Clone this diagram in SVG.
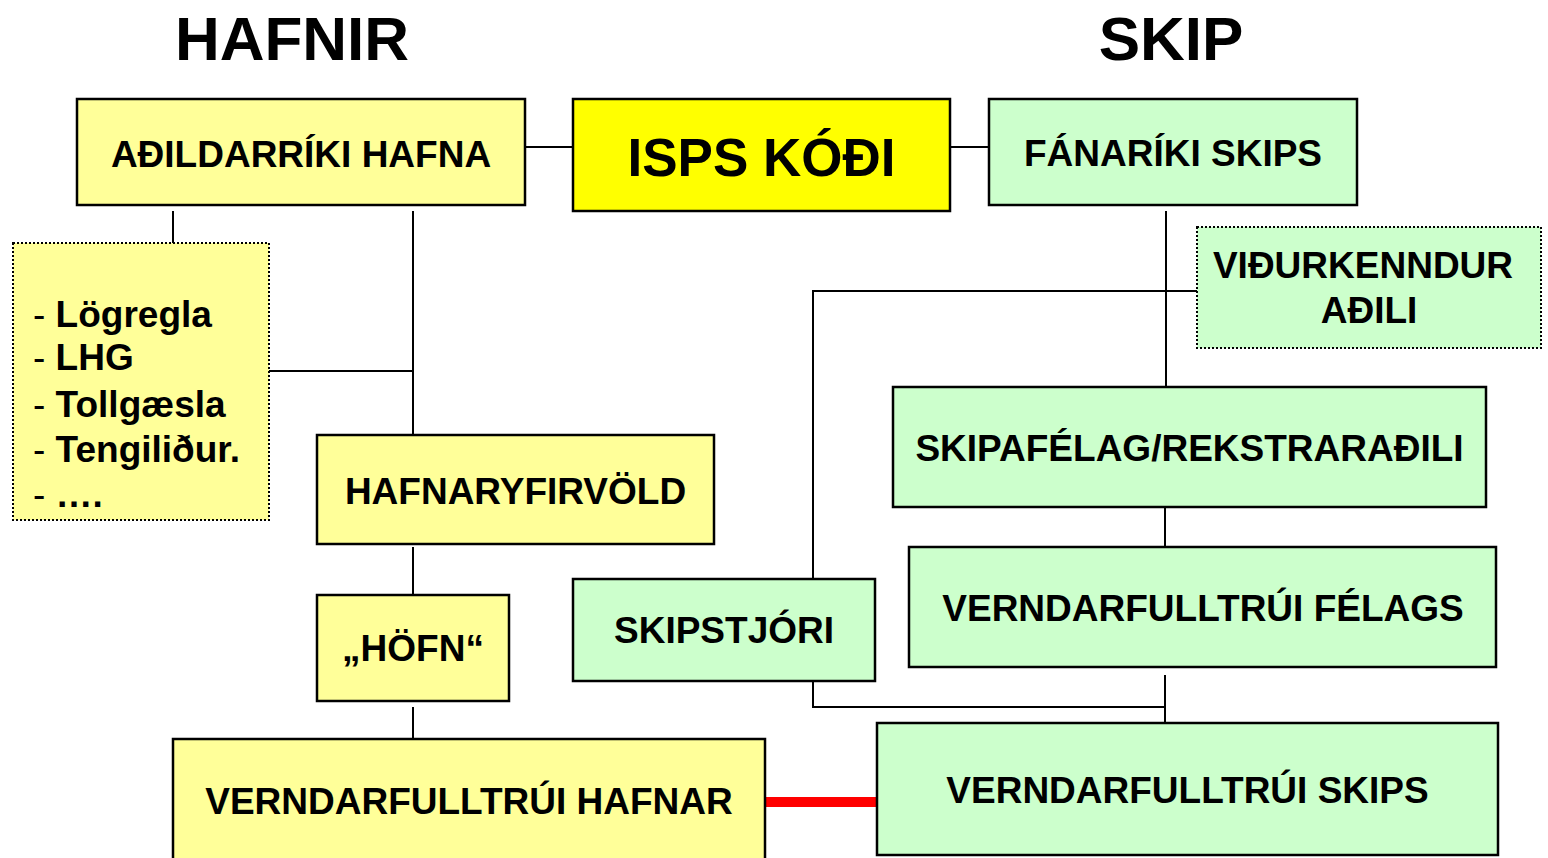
<svg xmlns="http://www.w3.org/2000/svg" width="1548" height="858" viewBox="0 0 1548 858">
<style>
text{font-family:"Liberation Sans",Arial,sans-serif;font-weight:bold;fill:#000}
.t{font-size:37px;text-anchor:middle}
.h{font-size:62px;text-anchor:middle}
.l{font-size:37px}
.n{font-weight:normal}
.box{stroke:#000;stroke-width:2.5}
.dot{stroke:#000;stroke-width:2;stroke-dasharray:2 2}
.y{fill:#FFFF99}
.g{fill:#CCFFCC}
.c{stroke:#000;stroke-width:2;fill:none}
</style>
<rect width="1548" height="858" fill="#fff"/>
<text class="h" x="292" y="60">HAFNIR</text>
<text class="h" x="1171" y="60">SKIP</text>
<g id="connectors">
<line class="c" x1="525" y1="147" x2="573" y2="147"/>
<line class="c" x1="942" y1="147" x2="989" y2="147"/>
<line class="c" x1="173" y1="211" x2="173" y2="243"/>
<polyline class="c" points="413,211 413,435"/>
<line class="c" x1="269" y1="371" x2="413" y2="371"/>
<line class="c" x1="413" y1="547" x2="413" y2="595"/>
<line class="c" x1="413" y1="707" x2="413" y2="739"/>
<line class="c" x1="1166" y1="211" x2="1166" y2="387"/>
<polyline class="c" points="1197,291 813,291 813,579"/>
<line class="c" x1="1165" y1="499" x2="1165" y2="547"/>
<polyline class="c" points="813,675 813,707 1165,707"/>
<line class="c" x1="1165" y1="675" x2="1165" y2="738"/>
<line x1="765" y1="802" x2="877" y2="802" stroke="#FF0000" stroke-width="10"/>
</g>
<g id="adildarriki">
<rect class="box y" x="77" y="99" width="448" height="106"/>
<text class="t" x="301" y="167">AÐILDARRÍKI HAFNA</text>
</g>
<g id="isps">
<rect class="box" fill="#FFFF00" x="573" y="99" width="377" height="112"/>
<text x="761.5" y="176" style="font-size:53px;text-anchor:middle">ISPS KÓÐI</text>
</g>
<g id="fanariki">
<rect class="box g" x="989" y="99" width="368" height="106"/>
<text class="t" x="1173" y="166">FÁNARÍKI SKIPS</text>
</g>
<g id="listi">
<rect class="dot y" x="13" y="243" width="256" height="277"/>
<text class="l" x="33" y="327"><tspan class="n">- </tspan>Lögregla</text>
<text class="l" x="33" y="370"><tspan class="n">- </tspan>LHG</text>
<text class="l" x="33" y="417"><tspan class="n">- </tspan>Tollgæsla</text>
<text class="l" x="33" y="462"><tspan class="n">- </tspan>Tengiliður.</text>
<text class="l" x="33" y="507"><tspan class="n">- </tspan>….</text>
</g>
<g id="vidurkenndur">
<rect class="dot g" x="1197" y="227" width="344" height="121"/>
<text class="t" x="1363" y="278">VIÐURKENNDUR</text>
<text class="t" x="1369" y="323">AÐILI</text>
</g>
<g id="hafnaryfirvold">
<rect class="box y" x="317" y="435" width="397" height="109"/>
<text class="t" x="515.5" y="504">HAFNARYFIRVÖLD</text>
</g>
<g id="skipafelag">
<rect class="box g" x="893" y="387" width="593" height="120"/>
<text class="t" x="1189.5" y="461">SKIPAFÉLAG/REKSTRARAÐILI</text>
</g>
<g id="hofn">
<rect class="box y" x="317" y="595" width="192" height="106"/>
<text class="t" x="413" y="661">„HÖFN“</text>
</g>
<g id="skipstjori">
<rect class="box g" x="573" y="579" width="302" height="102"/>
<text class="t" x="724" y="643">SKIPSTJÓRI</text>
</g>
<g id="vf-felags">
<rect class="box g" x="909" y="547" width="587" height="120"/>
<text class="t" x="1203" y="621">VERNDARFULLTRÚI FÉLAGS</text>
</g>
<g id="vf-hafnar">
<rect class="box y" x="173" y="739" width="592" height="130"/>
<text class="t" x="469" y="814">VERNDARFULLTRÚI HAFNAR</text>
</g>
<g id="vf-skips">
<rect class="box g" x="877" y="723" width="621" height="132"/>
<text class="t" x="1187.5" y="803">VERNDARFULLTRÚI SKIPS</text>
</g>
</svg>
